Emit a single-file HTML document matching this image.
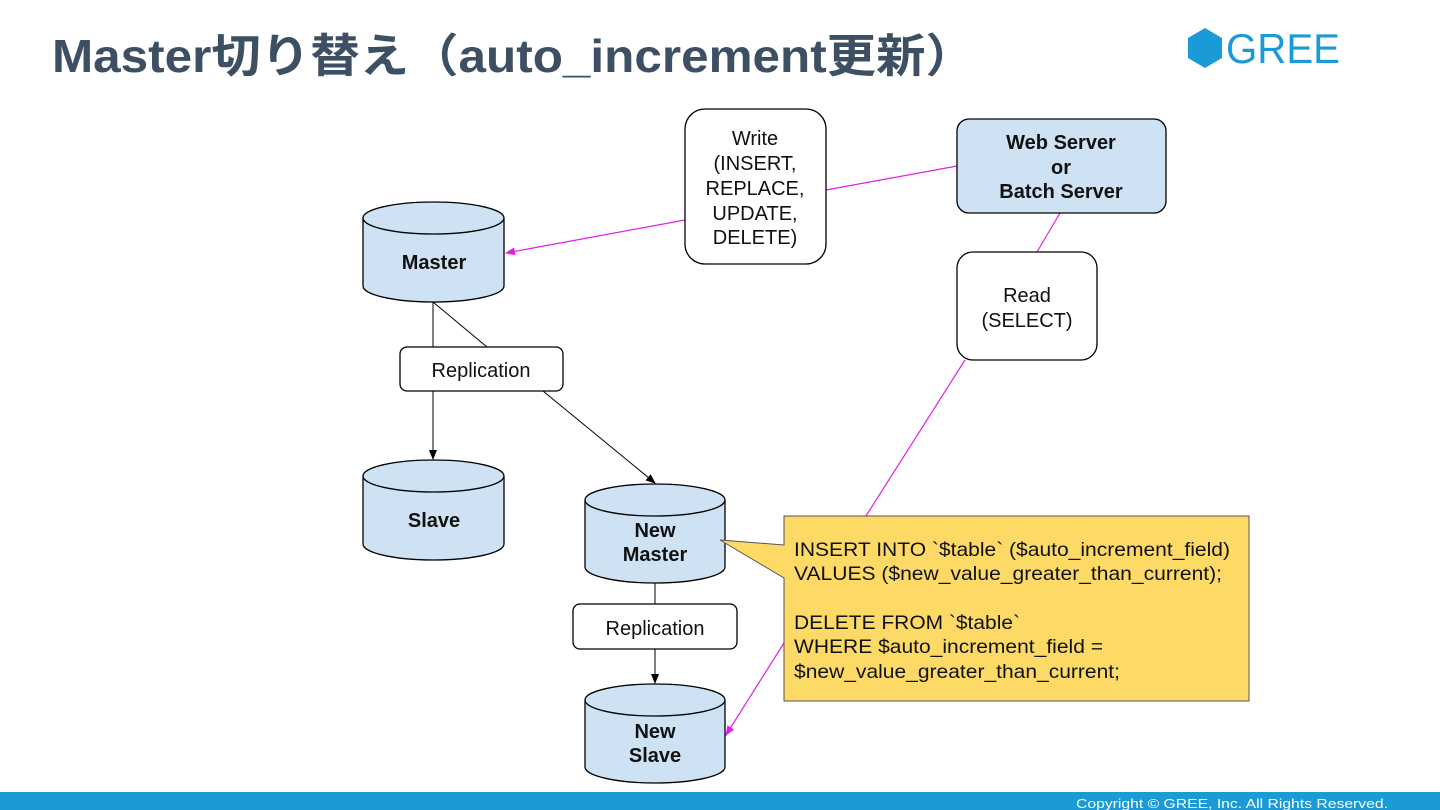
<!DOCTYPE html>
<html><head><meta charset="utf-8"><style>
body{margin:0;width:1440px;height:810px;overflow:hidden;background:#fff;font-family:"Liberation Sans","Noto Sans CJK JP",sans-serif}
</style></head><body>
<svg width="1440" height="810" xmlns="http://www.w3.org/2000/svg" style="position:absolute;left:0;top:0">
<defs>
<marker id="am" markerWidth="10" markerHeight="8" refX="9" refY="4" orient="auto" markerUnits="userSpaceOnUse"><path d="M0,0 L10,4 L0,8 z" fill="#e020e0"/></marker>
<marker id="ab" markerWidth="10" markerHeight="8" refX="9" refY="4" orient="auto" markerUnits="userSpaceOnUse"><path d="M0,0 L10,4 L0,8 z" fill="#000"/></marker>
</defs>
<text x="52" y="72" font-size="46" font-weight="bold" fill="#3d4f62" textLength="923" lengthAdjust="spacingAndGlyphs" font-family="Liberation Sans, Noto Sans CJK JP, sans-serif">Master切り替え（auto_increment更新）</text>
<polygon points="1205,28 1222,38 1222,58 1205,68 1188,58 1188,38" fill="#1a9ad6"/>
<text x="1226" y="63" font-size="42" fill="#1a9ad6" textLength="114" lengthAdjust="spacingAndGlyphs" font-family="Liberation Sans, sans-serif">GREE</text>
<rect x="0" y="792" width="1440" height="18" fill="#1a9ad6"/>
<text x="1076" y="808" font-size="13" fill="#fff" textLength="312" lengthAdjust="spacingAndGlyphs">Copyright © GREE, Inc. All Rights Reserved.</text>

<g stroke="#e020e0" stroke-width="1.2" fill="none">
<line x1="957" y1="166" x2="826" y2="190"/>
<line x1="685" y1="220" x2="506" y2="253" marker-end="url(#am)"/>
<line x1="1060" y1="213" x2="1037" y2="252"/>
<line x1="965" y1="360" x2="866" y2="516"/>
<line x1="784" y1="643" x2="726" y2="735" marker-end="url(#am)"/>
</g>
<g stroke="#000" stroke-width="1" fill="none">
<line x1="433" y1="302" x2="433" y2="347"/>
<line x1="433" y1="391" x2="433" y2="459" marker-end="url(#ab)"/>
<line x1="433" y1="302" x2="487" y2="347"/>
<line x1="543" y1="391" x2="655" y2="483" marker-end="url(#ab)"/>
<line x1="655" y1="583" x2="655" y2="604"/>
<line x1="655" y1="649" x2="655" y2="683" marker-end="url(#ab)"/>
</g>

<g stroke="#000" stroke-width="1.3" fill="#cfe2f3">
<path d="M363,218 A70.5,16 0 0 1 504,218 L504,286 A70.5,16 0 0 1 363,286 Z"/>
<path d="M363,218 A70.5,16 0 0 0 504,218" fill="none"/>
<path d="M363,476 A70.5,16 0 0 1 504,476 L504,544 A70.5,16 0 0 1 363,544 Z"/>
<path d="M363,476 A70.5,16 0 0 0 504,476" fill="none"/>
<path d="M585,500 A70,16 0 0 1 725,500 L725,567 A70,16 0 0 1 585,567 Z"/>
<path d="M585,500 A70,16 0 0 0 725,500" fill="none"/>
<path d="M585,700 A70,16 0 0 1 725,700 L725,767 A70,16 0 0 1 585,767 Z"/>
<path d="M585,700 A70,16 0 0 0 725,700" fill="none"/>
<rect x="957" y="119" width="209" height="94" rx="12"/>
</g>
<g stroke="#000" stroke-width="1.3" fill="#fff">
<rect x="685" y="109" width="141" height="155" rx="20"/>
<rect x="957" y="252" width="140" height="108" rx="16"/>
<rect x="400" y="347" width="163" height="44" rx="7"/>
<rect x="573" y="604" width="164" height="45" rx="7"/>
</g>
<path d="M784,516 L1249,516 L1249,701 L784,701 L784,578 L720,540 L784,545 Z" fill="#fdd966" stroke="#555" stroke-width="1"/>

<g font-size="20" fill="#111" text-anchor="middle">
<text x="434" y="269" font-weight="bold">Master</text>
<text x="434" y="527" font-weight="bold">Slave</text>
<text x="655" y="537" font-weight="bold">New</text>
<text x="655" y="561" font-weight="bold">Master</text>
<text x="655" y="738" font-weight="bold">New</text>
<text x="655" y="762" font-weight="bold">Slave</text>
<text x="1061" y="149" font-weight="bold">Web Server</text>
<text x="1061" y="174" font-weight="bold">or</text>
<text x="1061" y="198" font-weight="bold">Batch Server</text>
<text x="755" y="145">Write</text>
<text x="755" y="170">(INSERT,</text>
<text x="755" y="195">REPLACE,</text>
<text x="755" y="220">UPDATE,</text>
<text x="755" y="244">DELETE)</text>
<text x="1027" y="302">Read</text>
<text x="1027" y="327">(SELECT)</text>
<text x="481" y="377">Replication</text>
<text x="655" y="635">Replication</text>
</g>
<g font-size="19.5" fill="#111">
<text x="794" y="556" textLength="436" lengthAdjust="spacingAndGlyphs">INSERT INTO `$table` ($auto_increment_field)</text>
<text x="794" y="580" textLength="428" lengthAdjust="spacingAndGlyphs">VALUES ($new_value_greater_than_current);</text>
<text x="794" y="629" textLength="226" lengthAdjust="spacingAndGlyphs">DELETE FROM `$table`</text>
<text x="794" y="653" textLength="309" lengthAdjust="spacingAndGlyphs">WHERE $auto_increment_field =</text>
<text x="794" y="678" textLength="326" lengthAdjust="spacingAndGlyphs">$new_value_greater_than_current;</text>
</g>
</svg>
</body></html>
